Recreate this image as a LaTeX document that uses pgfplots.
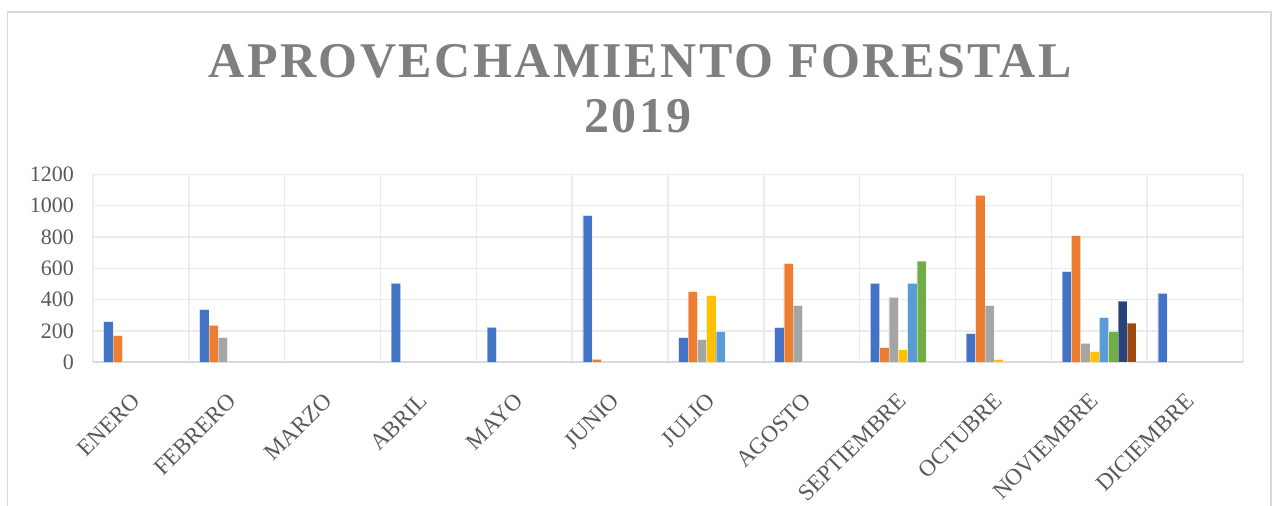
\documentclass[border=0pt]{standalone}
\usepackage{pgfplots}
\pgfplotsset{compat=1.18}
\usepackage{fontspec}
\setmainfont{Liberation Serif}
\newfontfamily\titlefont[LetterSpace=5]{Liberation Serif}
\definecolor{s1}{HTML}{4472C4}
\definecolor{s2}{HTML}{ED7D31}
\definecolor{s3}{HTML}{A5A5A5}
\definecolor{s4}{HTML}{FFC000}
\definecolor{s5}{HTML}{5B9BD5}
\definecolor{s6}{HTML}{70AD47}
\definecolor{s7}{HTML}{264478}
\definecolor{s8}{HTML}{9E480E}
\definecolor{txt}{HTML}{595959}
\definecolor{ttl}{HTML}{7F7F7F}
\definecolor{gridc}{HTML}{EBEBEB}
\definecolor{axc}{HTML}{D9D9D9}
\begin{document}
\begin{tikzpicture}
\draw[color=axc, line width=0.8pt] (3.65pt,-3pt) -- (3.65pt,247pt) -- (635.5pt,247pt) -- (635.5pt,-3pt);
\node[anchor=base, text=ttl, font=\titlefont\bfseries\fontsize{25}{30}\selectfont] at (320pt,214.35pt) {APROVECHAMIENTO FORESTAL};
\node[anchor=base, text=ttl, font=\titlefont\bfseries\fontsize{25}{30}\selectfont] at (319pt,186.65pt) {2019};
\begin{axis}[
  at={(46.5pt,71.85pt)}, anchor=south west,
  scale only axis, width=575pt, height=94pt,
  xmin=-0.5, xmax=11.5, ymin=0, ymax=1200,
  ytick={0,200,...,1200},
  xtick={0,...,11},
  xticklabels={ENERO,FEBRERO,MARZO,ABRIL,MAYO,JUNIO,JULIO,AGOSTO,SEPTIEMBRE,OCTUBRE,NOVIEMBRE,DICIEMBRE},
  minor xtick={-0.5,0.5,...,11.5},
  xminorgrids=true, ymajorgrids=true, xmajorgrids=false,
  grid style={color=gridc, line width=0.75pt},
  minor grid style={color=gridc, line width=0.75pt},
  major tick length=0pt, minor tick length=0pt,
  axis line style={draw=none},
  extra y ticks={0}, extra y tick labels={},
  extra y tick style={grid style={color=axc, line width=0.8pt}},
  tick label style={font=\fontsize{11}{13}\selectfont, text=txt},
  /pgf/number format/assume math mode=true,
  /pgf/number format/1000 sep={},
  yticklabel style={xshift=-6pt},
  xticklabel style={rotate=45, anchor=east, font=\fontsize{11.6}{13}\selectfont},
  xticklabel shift=15pt,
  ybar=0pt, bar width=4.65pt,
  every axis plot/.append style={draw=white, draw opacity=0.4, line width=0.3pt},
  clip=false,
]
\addplot[fill=s1] coordinates {(0,259) (1,336) (3,504) (4,223) (5,936) (6,157) (7,221) (8,504) (9,183) (10,578) (11,440)};
\addplot[fill=s2] coordinates {(0,170) (1,236) (5,19) (6,451) (7,629) (8,93) (9,1066) (10,808)};
\addplot[fill=s3] coordinates {(1,157) (6,144) (7,361) (8,415) (9,361) (10,121)};
\addplot[fill=s4] coordinates {(6,425) (8,80) (9,17) (10,68)};
\addplot[fill=s5] coordinates {(6,195) (8,504) (10,285)};
\addplot[fill=s6] coordinates {(8,645) (10,195)};
\addplot[fill=s7] coordinates {(10,391)};
\addplot[fill=s8] coordinates {(10,251)};
\end{axis}
\pgfresetboundingbox
\path[use as bounding box] (0,0) rectangle (637pt,253pt);
\end{tikzpicture}
\end{document}
